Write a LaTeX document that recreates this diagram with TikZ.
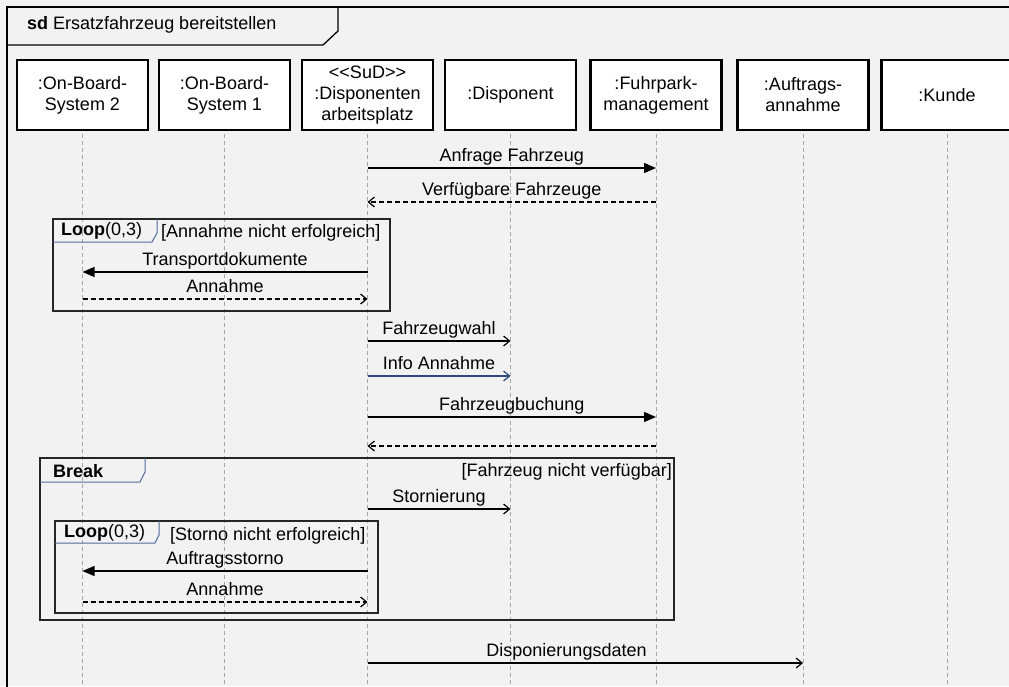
\documentclass[tikz,border=0pt]{standalone}
\usepackage{fontspec}
\setmainfont{Liberation Sans}
\usetikzlibrary{arrows.meta}
\definecolor{bgGray}{HTML}{F2F2F2}
\definecolor{lifeGray}{HTML}{A6A6A6}
\definecolor{tagBlue}{HTML}{4F6D9C}
\definecolor{msgBlue}{HTML}{2E4A7A}

\begin{document}
\begin{tikzpicture}[x=1pt, y=-1pt,
    font=\fontsize{18}{20}\selectfont,
    lifebox/.style={draw, line width=2.2pt, fill=white, minimum width=131pt,
      minimum height=70pt, align=center, inner sep=2pt,
      font=\fontsize{18}{21}\selectfont},
    lifeline/.style={draw=lifeGray, line width=1pt, dash pattern=on 4pt off 3pt},
    msg/.style={line width=1.2pt},
    sync/.style={msg, -{Triangle[length=12pt,width=10pt]}},
    async/.style={msg, -{Straight Barb[length=6pt,width=10pt]}},
    reply/.style={async, dash pattern=on 5pt off 3pt},
    lbl/.style={above, inner sep=2pt, text depth=4pt},
    txt/.style={inner sep=1pt},
    frag/.style={draw=black!85, line width=1.3pt},
    tag/.style={draw=tagBlue, line width=1pt}]
    \clip (0,0) rectangle (1009,686);
    \fill[bgGray] (0,0) rectangle (1009,686);

    % Frame
    \draw[line width=1.3pt] (7,7) rectangle (1040,720);
    \draw[line width=1.3pt] (7,45) -- (323,45) -- (338,31) -- (338,7);
    \node[txt, anchor=west] (title) at (26,25) {\textbf{sd} Ersatzfahrzeug bereitstellen};

    % Lifelines
    \foreach \i/\x/\t in {
      1/82.5/{:On-Board-\\System 2},
      2/224.5/{:On-Board-\\System 1},
      3/367.5/{<{}<SuD>{}>\\:Disponenten\\arbeitsplatz},
      4/510.5/{:Disponent},
      5/656/{:Fuhrpark-\\management},
      6/803/{:Auftrags-\\annahme},
      7/947/{:Kunde}}
    {
      \node[lifebox] (b\i) at (\x,95) {\t};
      \draw[lifeline] ([yshift=-3pt]b\i.south) -- (b\i.south |- 0,684);
    }

    % Loop 1
    \draw[frag] (53,219) rectangle (390,311);
    \draw[tag] (53,242) -- (152,242) -- (157,233) -- (157,219);
    \node[txt, anchor=west] (loopA) at (60,231) {\textbf{Loop}(0,3)};
    \node[txt, anchor=west] (guardA) at (160,233) {[Annahme nicht erfolgreich]};

    % Break
    \draw[frag] (40,458) rectangle (674,620);
    \draw[tag] (40,482) -- (140,482) -- (145,472) -- (145,458);
    \node[txt, anchor=west] (brk) at (52,471) {\textbf{Break}};
    \node[txt, anchor=east] (guardB) at (673,472) {[Fahrzeug nicht verfügbar]};

    % Loop 2
    \draw[frag] (55,521) rectangle (378,613);
    \draw[tag] (55,543) -- (155,543) -- (159,535) -- (159,521);
    \node[txt, anchor=west] (loopB) at (63,533) {\textbf{Loop}(0,3)};
    \node[txt, anchor=west] (guardC) at (169,536) {[Storno nicht erfolgreich]};

    % Messages
    \draw[sync] (b3.south |- 0,168) -- node[lbl] (m1) {Anfrage Fahrzeug} (b5.south |- 0,168);
    \draw[reply] (b5.south |- 0,202) -- node[lbl] (m2) {Verfügbare Fahrzeuge} (b3.south |- 0,202);
    \draw[sync] (b3.south |- 0,272) -- node[lbl] (m3) {Transportdokumente} (b1.south |- 0,272);
    \draw[reply] (b1.south |- 0,299) -- node[lbl] (m4) {Annahme} (b3.south |- 0,299);
    \draw[async] (b3.south |- 0,341) -- node[lbl] (m5) {Fahrzeugwahl} (b4.south |- 0,341);
    \draw[async, msgBlue] (b3.south |- 0,376) -- node[lbl, text=black] (m6) {Info Annahme} (b4.south |- 0,376);
    \draw[sync] (b3.south |- 0,417) -- node[lbl] (m7) {Fahrzeugbuchung} (b5.south |- 0,417);
    \draw[reply] (b5.south |- 0,446) -- (b3.south |- 0,446);
    \draw[async] (b3.south |- 0,509) -- node[lbl] (m9) {Stornierung} (b4.south |- 0,509);
    \draw[sync] (b3.south |- 0,571) -- node[lbl] (m10) {Auftragsstorno} (b1.south |- 0,571);
    \draw[reply] (b1.south |- 0,602) -- node[lbl] (m11) {Annahme} (b3.south |- 0,602);
    \draw[async] (b3.south |- 0,663) -- node[lbl, pos=0.457] (m12) {Disponierungsdaten} (b6.south |- 0,663);
  \end{tikzpicture}
\end{document}
